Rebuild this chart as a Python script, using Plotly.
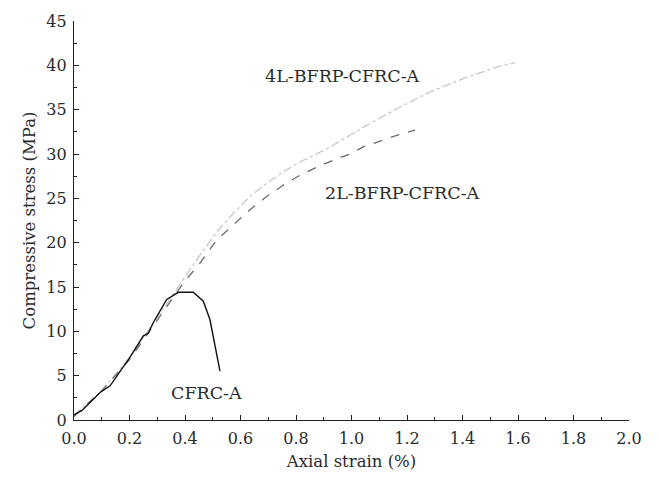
import plotly.graph_objects as go

# CFRC-A (solid black)
cfrc_x = [0.0, 0.028, 0.094, 0.13, 0.2, 0.25, 0.268, 0.286, 0.334, 0.376, 0.43, 0.466, 0.49, 0.526]
cfrc_y = [0.6, 1.05, 3.1, 3.85, 7.0, 9.5, 9.8, 11.0, 13.6, 14.4, 14.4, 13.4, 11.3, 5.5]

# 2L-BFRP-CFRC-A (dashed)
l2_x = [0.0, 0.1, 0.2, 0.3, 0.334, 0.394, 0.454, 0.514, 0.574, 0.634, 0.694, 0.755, 0.814, 0.874, 0.934, 0.995, 1.042, 1.163, 1.229]
l2_y = [0.4, 3.3, 6.8, 11.3, 12.8, 15.45, 17.7, 20.3, 22.0, 23.7, 25.2, 26.5, 27.6, 28.5, 29.3, 30.0, 30.8, 32.1, 32.7]

# 4L-BFRP-CFRC-A (dash-dot)
l4_x = [0.0, 0.1, 0.2, 0.3, 0.394, 0.454, 0.514, 0.574, 0.634, 0.694, 0.755, 0.814, 0.874, 0.934, 1.042, 1.163, 1.283, 1.403, 1.523, 1.589]
l4_y = [0.5, 3.3, 7.0, 11.6, 15.8, 18.6, 21.2, 23.3, 25.2, 26.7, 28.0, 29.1, 30.0, 31.0, 33.0, 35.1, 37.0, 38.5, 39.8, 40.3]

labels = ["4L-BFRP-CFRC-A", "2L-BFRP-CFRC-A", "CFRC-A"]
label_x = [0.968, 1.184, 0.476]
label_y = [38.8, 25.6, 3.1]

FONT = "DejaVu Serif"
fig = go.Figure()
fig.add_trace(go.Scatter(x=l4_x, y=l4_y, mode="lines",
                         line=dict(color="#c8c8c8", width=1.3, dash="dashdot")))
fig.add_trace(go.Scatter(x=l2_x, y=l2_y, mode="lines",
                         line=dict(color="#6a6a6a", width=1.3, dash="dash")))
fig.add_trace(go.Scatter(x=cfrc_x, y=cfrc_y, mode="lines",
                         line=dict(color="#111111", width=1.4)))

for t, x, y in zip(labels, label_x, label_y):
    fig.add_annotation(x=x, y=y, text=t, showarrow=False,
                       font=dict(family=FONT, size=17.5, color="#2a2a2a"))

axis_common = dict(showline=True, linecolor="#222", linewidth=1.2, ticks="inside",
                   ticklen=5, tickwidth=1.2, tickcolor="#222", showgrid=False,
                   zeroline=False, tickfont=dict(family=FONT, size=16, color="#2a2a2a"),
                   mirror=False)
fig.update_xaxes(range=[0, 2.0], dtick=0.2, tickformat=".1f", ticklabelstandoff=4,
                 title=dict(text="Axial strain (%)", font=dict(family=FONT, size=16.5, color="#2a2a2a"), standoff=8),
                 minor=dict(ticks="inside", dtick=0.1, ticklen=2.5, tickcolor="#222"),
                 **axis_common)
fig.update_yaxes(range=[0, 45], dtick=5, ticklabelstandoff=3,
                 title=dict(text="Compressive stress (MPa)", font=dict(family=FONT, size=16.5, color="#2a2a2a"), standoff=6),
                 minor=dict(ticks="inside", dtick=2.5, ticklen=2.5, tickcolor="#222"),
                 **axis_common)
fig.update_layout(width=659, height=480, showlegend=False,
                  margin=dict(l=74, r=30, t=20, b=59),
                  plot_bgcolor="white", paper_bgcolor="white")
fig.write_html("out.html")
